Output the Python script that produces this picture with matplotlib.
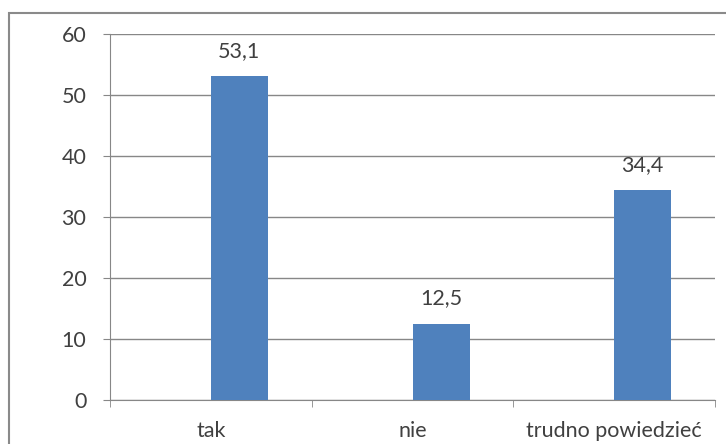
import matplotlib.pyplot as plt
import matplotlib.patches as mpatches
import numpy as np

categories = ["tak", "nie", "trudno powiedzieć"]
values = [53.1, 12.5, 34.4]
value_labels = ["53,1", "12,5", "34,4"]
yticks = [0, 10, 20, 30, 40, 50, 60]

plt.rcParams["font.family"] = ["Lato", "DejaVu Sans"]
text_color = "#404040"
grid_color = "#878787"
fs = 15.5

fig = plt.figure(figsize=(7.26, 4.44), dpi=100)
ax = fig.add_axes([110 / 726, 44 / 444, 605 / 726, 366 / 444])

x = np.arange(len(categories))
width = 0.283
bars = ax.bar(x + width / 2, values, width=width, color="#4F81BD", zorder=3)

for b, lab in zip(bars, value_labels):
    ax.annotate(lab, (b.get_x() + b.get_width() / 2, b.get_height()),
                xytext=(0, 11), textcoords="offset points",
                ha="center", va="bottom", fontsize=fs, color=text_color)

ax.set_xlim(-0.5, 2.5)
ax.set_ylim(0, 60)
ax.set_yticks(yticks)
ax.yaxis.grid(True, color=grid_color, lw=1, zorder=0)
ax.tick_params(axis="y", length=5, color=grid_color, labelsize=fs,
               labelcolor=text_color, pad=12)

ax.set_xticks(x)
ax.set_xticklabels(categories)
ax.set_xticks([-0.5, 0.5, 1.5, 2.5], minor=True)
ax.tick_params(axis="x", which="major", length=0, labelsize=fs,
               labelcolor=text_color, pad=15)
ax.tick_params(axis="x", which="minor", length=5, color=grid_color)

for s in ["top", "right"]:
    ax.spines[s].set_visible(False)
ax.spines["left"].set_color(grid_color)
ax.spines["bottom"].set_color(grid_color)

# outer chart border
border = mpatches.Rectangle((9 / 726, -0.05), 1.0, (444 - 13) / 444 + 0.05,
                            transform=fig.transFigure, fill=False,
                            edgecolor="#8a8a8a", lw=1.5, clip_on=False)
fig.patches.append(border)

fig.savefig("out.png", dpi=100)
